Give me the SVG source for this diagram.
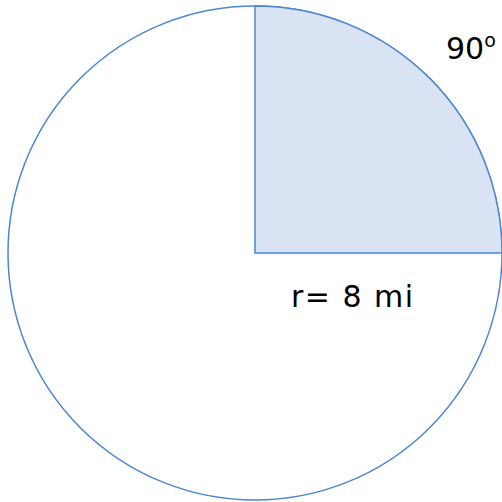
<svg xmlns="http://www.w3.org/2000/svg" width="502" height="502" viewBox="0 0 502 502">
<style>
.ln{stroke:#4a86d6;stroke-width:1.5}
.t{font-family:"DejaVu Sans",sans-serif;font-size:30px;fill:#000}
</style>
<rect width="502" height="502" fill="#fff"/>
<g id="circle"><circle cx="255" cy="253" r="247" fill="none" class="ln"/></g>
<g id="sector"><path d="M255,253 L255,6 A247,247 0 0 1 502,253 Z" fill="#dae3f3" class="ln"/></g>
<g id="angle"><text class="t" x="446" y="59">90<tspan font-size="19" y="47">o</tspan></text></g>
<g id="radius"><text class="t" x="291" y="307" font-size="31" textLength="122" lengthAdjust="spacing">r= 8 mi</text></g>
</svg>
